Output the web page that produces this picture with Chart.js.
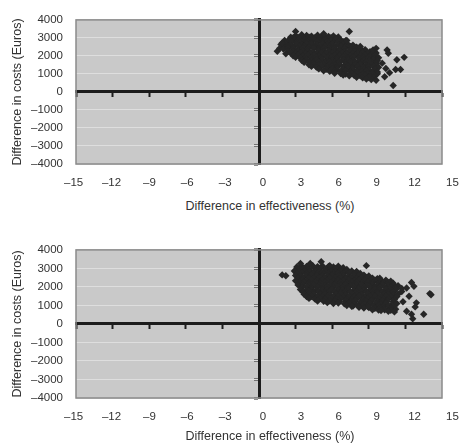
<!DOCTYPE html>
<html>
<head>
<meta charset="utf-8">
<script src="https://cdn.jsdelivr.net/npm/chart.js@4.4.1/dist/chart.umd.min.js"></script>
<style>
  html, body { margin: 0; padding: 0; background: #fff; }
  body { width: 459px; height: 445px; position: relative; overflow: hidden; font-family: "Liberation Sans", Arial, sans-serif; }
  .panel { position: absolute; left: 0; width: 459px; }
  .xtitle { position: absolute; left: 170px; width: 200px; text-align: center; font-size: 12.5px; color: #333; white-space: nowrap; }
</style>
</head>
<body>
<div class="panel" style="top:0;height:196px"><canvas id="chartA"></canvas></div>
<div class="xtitle" style="top:199px">Difference in effectiveness (%)</div>
<div class="panel" style="top:230px;height:200px"><canvas id="chartB"></canvas></div>
<div class="xtitle" style="top:429px">Difference in effectiveness (%)</div>
<script>
// Axis labels
const xTicks = [-15, -12, -9, -6, -3, 0, 3, 6, 9, 12, 15];
const yTicks = [4000, 3000, 2000, 1000, 0, -1000, -2000, -3000, -4000];
const xTitle = "Difference in effectiveness (%)";
const yTitle = "Difference in costs (Euros)";

// Bootstrap replicates, upper panel: [effect difference %, cost difference EUR]
const cloudA = [
  [2.6,3040],[3.0,3120],[3.5,3180],[3.9,3140],[4.3,3100],[4.8,3150],[5.2,3120],[5.7,3080],[6.1,3110],[6.5,3050],
  [2.8,3010],[3.2,3030],[3.7,3000],[4.1,3040],[4.6,3020],[5.0,2990],[5.5,3030],[5.9,3010],[6.3,2990],
  [2.1,2860],[2.5,2920],[2.9,2880],[3.3,2940],[3.7,2900],[4.1,2870],[4.5,2930],[5.0,2890],[5.4,2910],[5.9,2870],[6.3,2920],[6.7,2880],[7.1,2850],
  [2.3,2760],[2.7,2790],[3.1,2750],[3.5,2780],[3.9,2770],[4.3,2740],[4.8,2790],[5.2,2760],[5.6,2780],[6.1,2750],[6.5,2770],[6.9,2790],
  [1.8,2640],[2.2,2680],[2.6,2620],[3.1,2660],[3.5,2640],[3.9,2690],[4.3,2650],[4.7,2620],[5.2,2670],[5.6,2640],[6.0,2660],[6.5,2620],[6.9,2670],[7.3,2640],[7.7,2600],
  [2.0,2510],[2.4,2540],[2.8,2500],[3.3,2530],[3.7,2520],[4.1,2490],[4.5,2540],[5.0,2510],[5.4,2530],[5.8,2500],[6.2,2520],[6.7,2540],[7.1,2500],[7.5,2530],[8.0,2490],
  [1.5,2260],[1.7,2420],[2.0,2380],[2.4,2430],[2.8,2400],[3.2,2370],[3.6,2420],[4.0,2390],[4.5,2410],[4.9,2380],[5.3,2420],[5.8,2390],[6.2,2400],[6.6,2370],[7.0,2410],[7.5,2380],[7.9,2420],[8.3,2400],[8.7,2350],
  [2.4,2260],[2.8,2280],[3.2,2250],[3.6,2290],[4.0,2270],[4.4,2240],[4.9,2280],[5.3,2260],[5.7,2290],[6.2,2250],[6.6,2270],[7.0,2240],[7.4,2280],[7.9,2260],[8.3,2290],[8.7,2250],[9.1,2230],
  [2.2,2120],[2.6,2160],[3.0,2140],[3.4,2170],[3.8,2130],[4.2,2150],[4.7,2120],[5.1,2160],[5.5,2140],[6.0,2170],[6.4,2130],[6.8,2150],[7.2,2120],[7.7,2160],[8.1,2140],[8.5,2170],[8.9,2130],[9.3,2100],[9.6,2160],
  [2.8,2010],[3.2,2030],[3.6,2000],[4.0,2040],[4.5,2020],[4.9,1990],[5.3,2030],[5.8,2010],[6.2,2040],[6.6,2000],[7.0,2020],[7.5,1990],[7.9,2030],[8.3,2010],[8.7,2040],[9.1,2000],[9.5,2020],
  [3.0,1920],[3.4,1880],[3.8,1910],[4.3,1890],[4.7,1920],[5.1,1880],[5.6,1900],[6.0,1930],[6.4,1880],[6.9,1910],[7.3,1890],[7.7,1920],[8.2,1880],[8.6,1900],[9.0,1910],[9.4,1870],[9.8,1900],
  [3.5,1760],[3.9,1780],[4.3,1750],[4.7,1790],[5.2,1770],[5.6,1740],[6.0,1780],[6.4,1760],[6.9,1790],[7.3,1750],[7.7,1770],[8.2,1740],[8.6,1780],[9.0,1760],[9.4,1790],[9.7,1750],
  [3.7,1640],[4.1,1670],[4.5,1630],[4.9,1660],[5.4,1650],[5.8,1680],[6.2,1640],[6.6,1660],[7.1,1630],[7.5,1670],[7.9,1650],[8.4,1620],[8.8,1660],[9.2,1640],[9.6,1610],
  [4.1,1510],[4.5,1540],[4.9,1500],[5.3,1530],[5.8,1520],[6.2,1490],[6.6,1530],[7.1,1510],[7.5,1540],[7.9,1500],[8.3,1520],[8.8,1490],[9.2,1530],[9.6,1500],
  [4.3,1420],[4.7,1380],[5.1,1410],[5.6,1390],[6.0,1420],[6.4,1380],[6.9,1400],[7.3,1420],[7.7,1390],[8.1,1410],[8.6,1380],[9.0,1400],[9.4,1420],[9.8,1370],
  [4.9,1280],[5.5,1260],[6.0,1290],[6.4,1250],[6.9,1270],[7.3,1290],[7.7,1250],[8.2,1280],[8.6,1260],[9.0,1240],[9.5,1270],
  [5.3,1180],[5.8,1140],[6.2,1160],[6.7,1130],[7.1,1170],[7.5,1140],[8.0,1150],[8.4,1120],[8.8,1160],[9.3,1140],[9.7,1110],
  [6.2,1040],[6.7,1020],[7.1,1000],[7.6,1030],[8.0,1010],[8.5,990],[8.9,1020],[9.3,1000],[9.7,1010],
  [6.9,940],[7.4,900],[7.8,920],[8.3,890],[8.7,910],[9.1,870],[9.5,900],
  [8.0,810],[8.5,790],[9.0,800],[9.4,780],
  [8.8,720],[9.2,690],[9.6,650],
  [1.9,2720],[3.0,3360],[5.3,3230],[7.4,3360],[7.2,2860],[8.3,2520],[9.35,2330],[9.6,2420],[10.5,2330],[10.6,2150],
  [11.3,1790],[11.9,1920],[11.2,1250],[11.6,1250],[10.7,1070],[10.3,840],[11.0,360],[10.1,1600],[10.4,1300]
];

// Bootstrap replicates, lower panel
const cloudB = [
  [3.1,3080],[3.5,3120],[3.9,3100],[4.4,3140],[4.8,3090],[5.2,3130],[5.7,3110],[6.1,3080],[6.5,3120],[6.9,3040],
  [3.3,2980],[3.7,3000],[4.1,2970],[4.6,2990],[5.0,3010],[5.5,2970],[5.9,2990],[6.3,3000],[6.7,2960],[7.2,2940],
  [2.9,2860],[3.3,2830],[3.7,2870],[4.2,2850],[4.6,2880],[5.0,2840],[5.4,2870],[5.9,2850],[6.3,2820],[6.7,2870],[7.1,2840],[7.6,2860],[8.0,2830],
  [3.1,2730],[3.5,2750],[3.9,2720],[4.4,2740],[4.8,2710],[5.2,2750],[5.7,2730],[6.1,2710],[6.5,2740],[6.9,2720],[7.4,2750],[7.8,2710],[8.3,2730],
  [3.0,2620],[3.4,2590],[3.9,2610],[4.3,2640],[4.7,2600],[5.2,2620],[5.6,2590],[6.0,2630],[6.5,2600],[6.9,2610],[7.3,2580],[7.8,2620],[8.2,2600],[8.6,2640],[9.0,2590],
  [3.2,2480],[3.6,2500],[4.1,2470],[4.5,2490],[4.9,2460],[5.4,2500],[5.8,2480],[6.2,2460],[6.7,2490],[7.1,2470],[7.5,2500],[8.0,2460],[8.4,2480],[8.8,2500],[9.3,2470],[9.7,2450],
  [3.0,2330],[3.5,2370],[3.9,2340],[4.3,2360],[4.8,2330],[5.2,2370],[5.6,2350],[6.1,2330],[6.5,2360],[6.9,2340],[7.4,2370],[7.8,2330],[8.2,2350],[8.7,2370],[9.1,2340],[9.5,2360],[10.0,2330],[10.4,2370],[10.8,2310],
  [3.3,2230],[3.7,2250],[4.1,2220],[4.6,2240],[5.0,2210],[5.4,2250],[5.9,2230],[6.3,2210],[6.7,2240],[7.2,2220],[7.6,2250],[8.0,2210],[8.5,2230],[8.9,2250],[9.3,2220],[9.8,2240],[10.2,2210],[10.6,2230],[11.0,2200],
  [3.2,2110],[3.6,2080],[4.1,2100],[4.5,2120],[4.9,2090],[5.4,2110],[5.8,2080],[6.2,2120],[6.7,2090],[7.1,2110],[7.5,2080],[8.0,2120],[8.4,2100],[8.8,2070],[9.3,2110],[9.7,2090],[10.1,2120],[10.6,2080],[11.0,2110],[11.4,2070],
  [3.5,1980],[3.9,2000],[4.3,1970],[4.8,1990],[5.2,1960],[5.6,2000],[6.1,1980],[6.5,1960],[6.9,1990],[7.3,1970],[7.8,2000],[8.2,1960],[8.6,1980],[9.1,2000],[9.5,1970],[9.9,1990],[10.4,1960],[10.8,1980],[11.2,1950],
  [3.4,1860],[3.9,1830],[4.3,1870],[4.7,1840],[5.2,1860],[5.6,1830],[6.0,1870],[6.5,1850],[6.9,1820],[7.3,1860],[7.8,1840],[8.2,1870],[8.6,1830],[9.1,1850],[9.5,1870],[9.9,1840],[10.4,1860],[10.8,1830],[11.2,1860],
  [3.6,1730],[4.1,1750],[4.5,1720],[4.9,1740],[5.4,1710],[5.8,1750],[6.2,1730],[6.7,1710],[7.1,1740],[7.5,1720],[8.0,1750],[8.4,1710],[8.8,1730],[9.3,1750],[9.7,1720],[10.1,1740],[10.6,1710],[11.0,1730],
  [3.7,1600],[4.1,1630],[4.5,1590],[5.0,1620],[5.4,1600],[5.8,1580],[6.3,1610],[6.7,1630],[7.1,1590],[7.6,1620],[8.0,1600],[8.4,1580],[8.9,1620],[9.3,1600],[9.7,1630],[10.2,1590],[10.6,1610],[11.0,1580],[11.4,1620],
  [3.9,1480],[4.3,1500],[4.8,1470],[5.2,1490],[5.6,1460],[6.1,1500],[6.5,1480],[6.9,1460],[7.4,1490],[7.8,1470],[8.2,1500],[8.7,1460],[9.1,1480],[9.5,1500],[10.0,1470],[10.4,1490],[10.8,1460],[11.3,1480],
  [4.1,1380],[4.6,1340],[5.0,1370],[5.4,1330],[5.9,1360],[6.3,1340],[6.7,1370],[7.2,1350],[7.6,1320],[8.0,1360],[8.5,1340],[8.9,1370],[9.3,1330],[9.8,1360],[10.2,1340],[10.6,1370],[11.1,1330],
  [4.8,1240],[5.3,1220],[5.8,1250],[6.2,1230],[6.6,1210],[7.1,1240],[7.5,1220],[7.9,1250],[8.4,1210],[8.8,1230],[9.2,1250],[9.7,1220],[10.1,1240],[10.5,1210],[11.0,1230],
  [5.6,1150],[6.1,1100],[6.5,1130],[7.0,1090],[7.4,1120],[7.8,1080],[8.3,1110],[8.7,1070],[9.1,1100],[9.6,1120],[10.0,1080],[10.4,1110],[10.9,1070],[11.3,1100],
  [7.2,990],[7.7,970],[8.1,1000],[8.5,980],[8.9,960],[9.4,990],[9.8,970],[10.2,950],[10.6,980],[11.0,960],
  [7.6,960],[8.2,900],[8.6,860],[9.0,890],[9.5,840],[9.9,870],[10.3,820],[10.8,850],[11.2,800],
  [9.3,770],[9.8,750],[10.3,760],[10.8,740],
  [10.0,720],[10.6,680],[11.1,650],
  [1.9,2650],[2.2,2600],[3.4,3270],[4.2,3270],[5.1,3360],[5.8,3150],[8.8,3150],[9.9,2470],[12.5,2240],[12.1,1940],
  [12.7,2030],[11.7,1920],[14.0,1640],[14.1,1580],[12.9,1140],[12.8,920],[12.1,690],[12.5,520],[12.6,280],[13.5,520],
  [11.8,1200],[12.3,1500],[11.7,1750]
];

const fontFamily = "'Liberation Sans', Arial, sans-serif";
const textColor = "#333";

function dashed(v) {
    return v < 0 ? "\u2013" + Math.abs(v) : String(v);
}

// Grey plot background and frame
const plotFrame = {
    id: "plotFrame",
    beforeDraw: function(chart) {
        const a = chart.chartArea;
        const ctx = chart.ctx;
        ctx.save();
        ctx.fillStyle = "#c9c9c9";
        ctx.fillRect(a.left, a.top, a.right - a.left, a.bottom - a.top);
        ctx.restore();
    },
    beforeDatasetsDraw: function(chart) {
        const a = chart.chartArea;
        const ctx = chart.ctx;
        ctx.save();
        ctx.strokeStyle = "#8a8a8a";
        ctx.lineWidth = 1.5;
        ctx.strokeRect(a.left, a.top, a.right - a.left, a.bottom - a.top);
        ctx.restore();
    }
};

function buildChart(id, cloud, padTop) {
    const zeroAxis = {
        drawOnChartArea: false,
        drawTicks: true,
        tickLength: 4,
        tickWidth: 2,
        tickColor: "#1c1c1c"
    };
    return new Chart(document.getElementById(id), {
        type: "scatter",
        data: {
            datasets: [{
                data: cloud.map(function(p) { return { x: p[0], y: p[1] }; }),
                pointStyle: "rectRot",
                pointRadius: 3.7,
                pointHoverRadius: 3.7,
                backgroundColor: "#262626",
                borderWidth: 0
            }]
        },
        options: {
            responsive: true,
            maintainAspectRatio: false,
            animation: false,
            layout: { padding: { top: padTop, right: 17, bottom: 0, left: 0 } },
            plugins: { legend: { display: false }, tooltip: { enabled: false } },
            scales: {
                // axes crossing at the origin
                x: {
                    type: "linear", position: { y: 0 }, min: -15, max: 15,
                    ticks: { display: false, stepSize: 3 },
                    grid: zeroAxis,
                    border: { color: "#1c1c1c", width: 3 }
                },
                y: {
                    type: "linear", position: { x: 0 }, min: -4000, max: 4000,
                    ticks: { display: false, stepSize: 1000 },
                    grid: zeroAxis,
                    border: { color: "#1c1c1c", width: 3 }
                },
                // outer label axes
                yLab: {
                    type: "linear", position: "left", min: -4000, max: 4000,
                    afterBuildTicks: function(s) { s.ticks = yTicks.map(function(v) { return { value: v }; }); },
                    afterFit: function(s) { s.width = 76; },
                    ticks: {
                        padding: 13, color: textColor,
                        font: { family: fontFamily, size: 11.5 },
                        callback: dashed
                    },
                    grid: { color: "#dedede", lineWidth: 1, drawTicks: false },
                    border: { display: false },
                    title: {
                        display: true, text: yTitle, color: textColor,
                        font: { family: fontFamily, size: 12.5 },
                        padding: { top: 10, bottom: 0 }
                    }
                },
                xLab: {
                    type: "linear", position: "bottom", min: -14.81, max: 14.17,
                    afterBuildTicks: function(s) { s.ticks = xTicks.map(function(v) { return { value: v }; }); },
                    afterFit: function(s) { s.height = 32; s.paddingLeft = 0; s.paddingRight = 0; },
                    ticks: {
                        autoSkip: false, maxRotation: 0, padding: 12, color: textColor,
                        font: { family: fontFamily, size: 11.5 },
                        callback: dashed
                    },
                    grid: { display: false, drawTicks: false },
                    border: { display: false }
                }
            }
        },
        plugins: [plotFrame]
    });
}

buildChart("chartA", cloudA, 15);
buildChart("chartB", cloudB, 18);
</script>
</body>
</html>
